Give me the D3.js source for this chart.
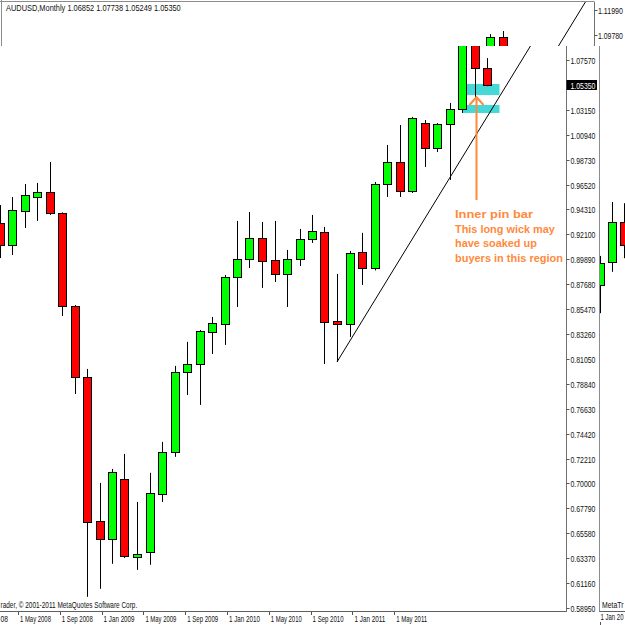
<!DOCTYPE html>
<html><head><meta charset="utf-8">
<script src="https://cdn.jsdelivr.net/npm/d3@7"></script>
<style>html,body{margin:0;padding:0;background:#fff;overflow:hidden}</style>
</head><body>
<script>
// ---------------- data ----------------
const symbol = "AUDUSD";
const timeframe = "Monthly";
const months = ["2008-03","2008-04","2008-05","2008-06","2008-07","2008-08","2008-09","2008-10","2008-11","2008-12",
  "2009-01","2009-02","2009-03","2009-04","2009-05","2009-06","2009-07","2009-08","2009-09","2009-10","2009-11","2009-12",
  "2010-01","2010-02","2010-03","2010-04","2010-05","2010-06","2010-07","2010-08","2010-09","2010-10","2010-11","2010-12",
  "2011-01","2011-02","2011-03","2011-04","2011-05","2011-06"];
const opens  = [0.9310,0.9116,0.9417,0.9542,0.9586,0.9400,0.8575,0.7945,0.6668,0.6508,
  0.7040,0.6349,0.6393,0.6910,0.7280,0.7990,0.8060,0.8344,0.8415,0.8832,0.8992,0.9178,
  0.8980,0.8859,0.8992,0.9169,0.9231,0.8442,0.8415,0.9054,0.8912,0.9657,0.9852,0.9595,
  1.0198,0.9976,1.0189,1.0322,1.0960,1.06852];
const highs  = [0.9470,0.9541,0.9657,0.9666,0.9852,0.9405,0.8583,0.8016,0.7005,0.7129,
  0.7262,0.6836,0.7094,0.7369,0.8043,0.8256,0.8362,0.8477,0.8850,0.9329,0.9409,0.9320,
  0.9329,0.9072,0.9258,0.9382,0.9276,0.8859,0.9063,0.9223,0.9675,1.0003,1.0180,1.0252,
  1.0225,1.0198,1.0376,1.0987,1.1014,1.07738];
const lows   = [0.9000,0.9027,0.9267,0.9329,0.9382,0.8486,0.7794,0.5994,0.6065,0.6287,
  0.6339,0.6233,0.6278,0.6836,0.7236,0.7785,0.7697,0.8149,0.8229,0.8566,0.8912,0.8735,
  0.8788,0.8566,0.8930,0.9134,0.8060,0.8078,0.8300,0.8761,0.8890,0.9542,0.9542,0.9577,
  0.9808,0.9941,0.9693,1.0287,1.0429,1.05249];
const closes = [0.9118,0.9426,0.9559,0.9586,0.9400,0.8575,0.7945,0.6659,0.6508,0.7103,
  0.6357,0.6375,0.6916,0.7280,0.7990,0.8060,0.8353,0.8424,0.8832,0.8992,0.9178,0.8974,
  0.8859,0.8992,0.9169,0.9240,0.8433,0.8415,0.9045,0.8912,0.9657,0.9852,0.9595,1.0243,
  0.9976,1.0189,1.0322,1.0960,1.0686,1.05350];

const priceTicks = ["1.07570","1.05360","1.03150","1.00940","0.98730","0.96520","0.94310","0.92100","0.89890",
  "0.87680","0.85470","0.83260","0.81050","0.78840","0.76630","0.74420","0.72210","0.70000","0.67790",
  "0.65580","0.63370","0.61160","0.58950"];
const upperTicks = ["1.11990","1.09780"];
// first label is only partly visible at the left edge ("08")
const dateTicks = ["08","1 May 2008","1 Sep 2008","1 Jan 2009","1 May 2009","1 Sep 2009",
  "1 Jan 2010","1 May 2010","1 Sep 2010","1 Jan 2011","1 May 2011"];
const copyrightVisible = "rader, \u00a9 2001-2011 MetaQuotes Software Corp.";
const sideCopyVisible = "MetaTr";
const sideDateVisible = "1 Jan 20";

// trend line anchors (month index, price)
const trendIdx = [27, 35];
const trendPrice = [0.8078, 0.9527];
// support zones (month index from/to, price top/bottom)
const zoneFrom = [37.3, 37];
const zoneTo = [40, 40];
const zoneTop = [1.0544, 1.0358];
const zoneBottom = [1.0446, 1.0287];
// arrow (month index, price from -> to)
const arrowIdx = 38.1, arrowFrom = 0.9515, arrowTo = 1.0429;
const noteLines = ["Inner pin bar","This long wick may","have soaked up","buyers in this region"];

// neighbouring chart window (partially visible), arbitrary units
const sideOpens = [57.8, 61.6, 68.7];
const sideHighs = [62.8, 72.3, 72.1];
const sideLows = [52.7, 60.0, 62.4];
const sideCloses = [61.6, 68.7, 64.7];

// ---------------- drawing ----------------
const W = 625, H = 625;
const FONT = "'Liberation Sans', Arial, sans-serif";
const svg = d3.select("body").append("svg").attr("width", W).attr("height", H)
  .style("display","block").style("font-family", FONT);
const defs = svg.append("defs");
defs.append("clipPath").attr("id","clipMain").append("rect").attr("x",-20).attr("y",46).attr("width",586.5).attr("height",565.5);
defs.append("clipPath").attr("id","clipTop").append("rect").attr("x",2).attr("y",2).attr("width",592.5).attr("height",44);
defs.append("clipPath").attr("id","clipSide").append("rect").attr("x",600).attr("y",46).attr("width",30).attr("height",565);

// small text squeezed horizontally to a target width (via transform, so its box is exact)
function label(g, str, tx, ty, width, opts = {}) {
  const t = g.append("text").attr("font-size", opts.size || "8.5px").attr("fill", opts.fill || "#111")
    .attr("font-weight", opts.weight || null).text(str);
  const nat = t.node().getComputedTextLength() || width;
  const s = width / nat;
  t.attr("transform", `translate(${tx},${ty}) scale(${s},1)`);
  return t;
}

const x = d3.scaleLinear().domain([0, 39]).range([-0.5, 487]);
const y = d3.scaleLinear().domain([0.5895, 1.0757]).range([608, 60]);
const SHIFT = 28; // window behind shows same chart shifted right

const candles = months.map((m, i) => ({i, o: opens[i], h: highs[i], l: lows[i], c: closes[i]}));

function drawCandles(g, data, xf, yf) {
  const gg = g.selectAll("g.c").data(data).join("g").attr("class","c");
  gg.append("line")
    .attr("x1", d => Math.round(xf(d.i)) + 0.5).attr("x2", d => Math.round(xf(d.i)) + 0.5)
    .attr("y1", d => yf(d.h)).attr("y2", d => yf(d.l))
    .attr("stroke", "#000").attr("stroke-width", 1);
  gg.append("rect")
    .attr("x", d => Math.round(xf(d.i)) + 0.5 - 4)
    .attr("width", 8)
    .attr("y", d => Math.round(yf(Math.max(d.o, d.c))) + 0.5)
    .attr("height", d => Math.max(1, Math.round(Math.abs(yf(d.o) - yf(d.c)))))
    .attr("fill", d => d.c >= d.o ? "#00ff00" : "#ff0000")
    .attr("stroke", "#000").attr("stroke-width", 1);
}

function trendPath(xf) {
  const slope = (trendPrice[1] - trendPrice[0]) / (trendIdx[1] - trendIdx[0]);
  const iEnd = 60;
  return [[xf(trendIdx[0]), y(trendPrice[0])], [xf(iEnd), y(trendPrice[0] + slope * (iEnd - trendIdx[0]))]];
}

// ---- window behind (top strip) ----
const backWin = svg.append("g");
const xBack = v => x(v) + SHIFT;
const backPlot = backWin.append("g").attr("clip-path","url(#clipTop)");
drawCandles(backPlot, candles, xBack, y);
const tp = trendPath(xBack);
backPlot.append("line").attr("x1", tp[0][0]).attr("y1", tp[0][1]).attr("x2", tp[1][0]).attr("y2", tp[1][1])
  .attr("stroke","#000").attr("stroke-width",1);
backWin.append("line").attr("x1",0).attr("x2",594.5).attr("y1",1.5).attr("y2",1.5).attr("stroke","#8c8c8c");
backWin.append("line").attr("x1",1.5).attr("x2",1.5).attr("y1",0).attr("y2",46).attr("stroke","#8c8c8c");
backWin.append("line").attr("x1",594.5).attr("x2",594.5).attr("y1",2).attr("y2",46).attr("stroke","#707070");
upperTicks.forEach(t => {
  const yy = Math.round(y(+t)) + 0.5;
  backWin.append("line").attr("x1",594.5).attr("x2",597.5).attr("y1",yy).attr("y2",yy).attr("stroke","#555");
  label(backWin, t, 598, yy + 3, 25);
});
const last = candles[candles.length - 1];
label(backWin, `${symbol},${timeframe}  ${last.o.toFixed(5)} ${last.h.toFixed(5)} ${last.l.toFixed(5)} ${last.c.toFixed(5)}`, 6, 11, 175);

// ---- main window ----
const mainWin = svg.append("g");
const plot = mainWin.append("g").attr("clip-path","url(#clipMain)");
zoneFrom.forEach((f, k) => {
  plot.append("rect").attr("x", x(f)).attr("width", x(zoneTo[k]) - x(f))
    .attr("y", y(zoneTop[k])).attr("height", y(zoneBottom[k]) - y(zoneTop[k]))
    .attr("fill","#44d9d6");
});
drawCandles(plot, candles, x, y);
const mp = trendPath(x);
plot.append("line").attr("x1", mp[0][0]).attr("y1", mp[0][1]).attr("x2", mp[1][0]).attr("y2", mp[1][1])
  .attr("stroke","#000").attr("stroke-width",1);
const ORANGE = "#ff8a3d";
const ax = Math.round(x(arrowIdx)) + 0.5, ayTip = y(arrowTo), ayBase = y(arrowFrom);
plot.append("line").attr("x1",ax).attr("x2",ax).attr("y1",ayTip).attr("y2",ayBase)
  .attr("stroke",ORANGE).attr("stroke-width",2);
plot.append("polyline").attr("points", `${ax-7},${ayTip+8} ${ax},${ayTip} ${ax+7},${ayTip+8}`)
  .attr("fill","none").attr("stroke",ORANGE).attr("stroke-width",2);
const noteWidths = [78, 100, 82, 108];
noteLines.forEach((t, k) => {
  label(plot, t, 455, 218 + k * 14.5, noteWidths[k], {size: "10.5px", weight: "bold", fill: ORANGE});
});

mainWin.append("line").attr("x1",566.5).attr("x2",566.5).attr("y1",46).attr("y2",612).attr("stroke","#707070");
mainWin.append("line").attr("x1",0).attr("x2",566.5).attr("y1",611.5).attr("y2",611.5).attr("stroke","#606060");
mainWin.append("line").attr("x1",599.5).attr("x2",599.5).attr("y1",46).attr("y2",612).attr("stroke","#8c8c8c");
priceTicks.forEach(t => {
  const yy = Math.round(y(+t)) + 0.5;
  mainWin.append("line").attr("x1",566.5).attr("x2",569.5).attr("y1",yy).attr("y2",yy).attr("stroke","#555");
  label(mainWin, t, 570.5, yy + 3, 25);
});
const yc = Math.round(y(last.c)) + 0.5;
mainWin.append("rect").attr("x",566.5).attr("y",yc-5.5).attr("width",30.5).attr("height",10).attr("fill","#000");
label(mainWin, last.c.toFixed(5), 570.5, yc + 3, 25, {fill: "#fff"});
const xd = d3.scaleLinear().domain([0, dateTicks.length - 1]).range([-21.8, 396.2]);
dateTicks.forEach((t, k) => {
  const xx = Math.round(xd(k)) - 1.5;
  if (k > 0) mainWin.append("line").attr("x1",xx).attr("x2",xx).attr("y1",612).attr("y2",615).attr("stroke","#555");
  if (k === 0) label(mainWin, t, 0.5, 621.5, 7.5);
  else label(mainWin, t, xd(k), 621.5, 31);
});
label(mainWin, copyrightVisible, 0.5, 607.5, 137);

// ---- side window (right) ----
const sideWin = svg.append("g");
const xSide = d3.scaleLinear().domain([0, 2]).range([600, 624]);
const ySide = d3.scaleLinear().domain([0, 100]).range([612, 45]);
const sidePlot = sideWin.append("g").attr("clip-path","url(#clipSide)");
drawCandles(sidePlot, sideOpens.map((o, i) => ({i, o, h: sideHighs[i], l: sideLows[i], c: sideCloses[i]})), v => xSide(v) - 0.5, ySide);
sideWin.append("line").attr("x1",599.5).attr("x2",625).attr("y1",611.5).attr("y2",611.5).attr("stroke","#606060");
label(sideWin, sideCopyVisible, 602, 607.5, 21.5);
label(sideWin, sideDateVisible, 600.5, 620, 23);
sideWin.append("line").attr("x1",600.5).attr("x2",600.5).attr("y1",622).attr("y2",625).attr("stroke","#555");
</script>
</body></html>
